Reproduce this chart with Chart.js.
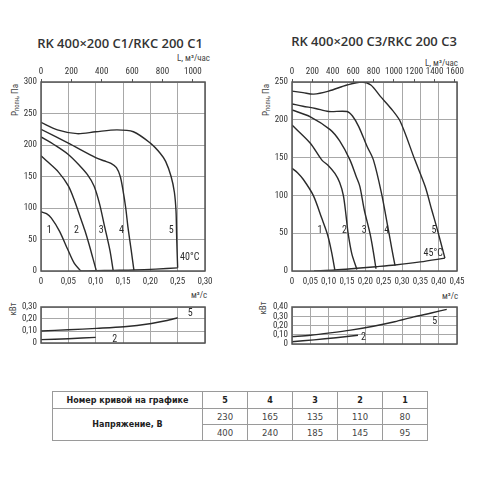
<!DOCTYPE html>
<html>
<head>
<meta charset="utf-8">
<script src="https://cdn.jsdelivr.net/npm/chart.js@4.4.0/dist/chart.umd.min.js"></script>
<style>
    body { margin: 0; width: 480px; height: 480px; background: #fff; position: relative; overflow: hidden;
           font-family: 'Roboto Condensed', 'Liberation Sans', sans-serif; color: #333; }
    canvas { position: absolute; }
    .t { position: absolute; white-space: nowrap; line-height: 1; }
    .title { font-family: 'Open Sans', sans-serif; font-weight: 600; font-size: 13px; color: #333; transform: translate(-50%, -50%); }
    .ax { font-size: 9px; color: #444; }
    .rot { transform: translate(-50%, -50%) rotate(-90deg); }
    sub { font-size: 6.5px; vertical-align: -1px; }
    table { position: absolute; left: 52px; top: 391px; border-collapse: collapse; font-family: 'DejaVu Sans', sans-serif; }
    td { border: 1px solid #9a9a9a; text-align: center; padding: 0; font-size: 8.5px; color: #444; }
    td.h { font-weight: bold; font-size: 8px; color: #222; }
</style>
</head>
<body>

<div class="t title" style="left:120px; top:43px">RK 400×200 C1/RKC 200 C1</div>
<div class="t title" style="left:374px; top:41px">RK 400×200 C3/RKC 200 C3</div>

<div class="t ax" style="left:177px; top:54px">L, м³/час</div>
<div class="t ax" style="left:425px; top:59px">L, м³/час</div>

<div class="t ax rot" style="left:16px; top:100px">P<sub>полн</sub>, Па</div>
<div class="t ax rot" style="left:267px; top:100px">P<sub>полн</sub>, Па</div>

<div class="t ax rot" style="left:13px; top:309px">кВт</div>
<div class="t ax rot" style="left:263px; top:308px">кВт</div>

<div class="t ax" style="left:191px; top:291px">м³/с</div>
<div class="t ax" style="left:442px; top:292px">м³/с</div>

<canvas id="c1main" width="240" height="250" style="left:0; top:50px"></canvas>
<canvas id="c1power" width="240" height="55" style="left:0; top:300px"></canvas>
<canvas id="c3main" width="230" height="250" style="left:250px; top:50px"></canvas>
<canvas id="c3power" width="230" height="55" style="left:250px; top:300px"></canvas>

<table>
    <tr style="height:17px">
        <td class="h" style="width:149px">Номер кривой на графике</td>
        <td class="h" style="width:44px">5</td>
        <td class="h" style="width:44px">4</td>
        <td class="h" style="width:44px">3</td>
        <td class="h" style="width:44px">2</td>
        <td class="h" style="width:44px">1</td>
    </tr>
    <tr style="height:16px">
        <td class="h" rowspan="2">Напряжение, В</td>
        <td>230</td><td>165</td><td>135</td><td>110</td><td>80</td>
    </tr>
    <tr style="height:16px">
        <td>400</td><td>240</td><td>185</td><td>145</td><td>95</td>
    </tr>
</table>

<script>
const FONT = "'Roboto Condensed', 'Liberation Sans', sans-serif";
const INK = '#2b2b2b';
const GRID = '#a8a8a8';
const FRAME = '#555';

// ---- RK 400x200 C1 : flow m3/s -> pressure Pa ----
const c1FlowTicks = [0, 0.05, 0.10, 0.15, 0.20, 0.25, 0.30];
const c1HourTicks = [0, 200, 400, 600, 800, 1000];
const c1PressTicks = [0, 50, 100, 150, 200, 250, 300];
const c1PowerTicks = [0, 0.10, 0.20, 0.30];

const c1Curve1 = [[0, 94], [0.01, 91], [0.019, 84], [0.034, 63], [0.049, 34], [0.061, 12], [0.073, 0]];
const c1Curve2 = [[0, 183], [0.01, 175], [0.032, 157], [0.05, 135], [0.062, 110], [0.072, 85], [0.08, 65], [0.088, 42], [0.095, 20], [0.101, 1]];
const c1Curve3 = [[0, 213], [0.025, 200], [0.05, 185], [0.07, 168], [0.085, 153], [0.097, 135], [0.107, 107], [0.1165, 70], [0.126, 33], [0.132, 1]];
const c1Curve4 = [[0, 225], [0.05, 203], [0.1, 180], [0.115, 175], [0.128, 171], [0.138, 164], [0.145, 150], [0.15, 128], [0.155, 100], [0.159, 70], [0.165, 33], [0.17, 1]];
const c1Curve5 = [[0, 236], [0.03, 224], [0.066, 218], [0.1, 221], [0.139, 224], [0.169, 221], [0.2, 203], [0.218, 187], [0.228, 174], [0.238, 150], [0.244, 125], [0.247, 95], [0.248, 60], [0.249, 30], [0.25, 5]];
const c1Base = [[0.073, 0], [0.1, 0.5], [0.132, 1], [0.17, 1.6], [0.21, 3], [0.25, 5]];
const c1Power5 = [[0, 0.10], [0.05, 0.11], [0.102, 0.122], [0.152, 0.136], [0.202, 0.163], [0.228, 0.185], [0.25, 0.21]];
const c1Power2 = [[0, 0.028], [0.05, 0.036], [0.1, 0.047]];
const c1Marks = [['1', 0.015, 65], ['2', 0.065, 65], ['3', 0.110, 65], ['4', 0.147, 65], ['5', 0.238, 65], ['40°C', 0.272, 22]];
const c1PowerMarks = [['5', 0.273, 0.25], ['2', 0.135, 0.03]];

// ---- RK 400x200 C3 ----
const c3FlowTicks = [0, 0.05, 0.10, 0.15, 0.20, 0.25, 0.30, 0.35, 0.40, 0.45];
const c3HourTicks = [0, 200, 400, 600, 800, 1000, 1200, 1400, 1600];
const c3PressTicks = [0, 50, 100, 150, 200, 250];
const c3PowerTicks = [0, 0.10, 0.20, 0.30, 0.40];

const c3Curve1 = [[0, 136], [0.015, 130], [0.031, 121], [0.058, 100], [0.081, 70], [0.097, 48], [0.108, 25], [0.117, 1]];
const c3Curve2 = [[0, 193], [0.05, 169], [0.081, 147], [0.1, 139], [0.117, 129], [0.13, 117], [0.14, 100], [0.147, 75], [0.153, 50], [0.163, 23], [0.177, 2]];
const c3Curve3 = [[0, 213], [0.05, 204], [0.104, 187], [0.13, 172], [0.158, 147], [0.175, 125], [0.185, 112], [0.197, 81], [0.213, 49], [0.222, 25], [0.229, 3]];
const c3Curve4 = [[0, 221], [0.03, 218], [0.064, 215], [0.1, 211], [0.15, 211], [0.165, 205], [0.182, 191], [0.2045, 165], [0.222, 147], [0.244, 103], [0.263, 54], [0.272, 30], [0.281, 7]];
const c3Curve5 = [[0, 238], [0.03, 236], [0.059, 234], [0.1, 238], [0.15, 246], [0.19, 250], [0.215, 246], [0.241, 231], [0.27, 215], [0.295, 198], [0.335, 147], [0.363, 112], [0.381, 81], [0.394, 59], [0.417, 17]];
const c3Base = [[0.06, 0], [0.117, 1.3], [0.177, 3.6], [0.229, 5.7], [0.281, 8], [0.35, 12], [0.417, 17]];
const c3Power5 = [[0, 0.08], [0.05, 0.095], [0.104, 0.12], [0.16, 0.15], [0.222, 0.192], [0.28, 0.24], [0.332, 0.293], [0.38, 0.335], [0.422, 0.375]];
const c3Power2 = [[0, 0.025], [0.06, 0.045], [0.12, 0.068], [0.18, 0.095]];
const c3Marks = [['1', 0.076, 54], ['2', 0.143, 54], ['3', 0.197, 54], ['4', 0.258, 54], ['5', 0.387, 54], ['45°C', 0.385, 23]];
const c3PowerMarks = [['5', 0.389, 0.24], ['2', 0.195, 0.07]];

const comma = v => v === 0 ? '0' : v.toFixed(2).replace('.', ',');
const plain = v => String(v);
const tickFont = { family: FONT, size: 9 };

// frame round the plot + curve numbers placed through the scales
const framePlugin = {
    id: 'frame',
    afterDraw(chart, args, opts) {
        const { ctx, chartArea: a, scales } = chart;
        ctx.save();
        ctx.strokeStyle = FRAME;
        ctx.lineWidth = 1.5;
        ctx.strokeRect(a.left, a.top, a.right - a.left, a.bottom - a.top);
        ctx.fillStyle = INK;
        ctx.font = `10px ${FONT}`;
        ctx.textAlign = 'center';
        ctx.textBaseline = 'middle';
        (opts.marks || []).forEach(([txt, x, y]) => {
            ctx.fillText(txt, scales.x.getPixelForValue(x), scales.y.getPixelForValue(y));
        });
        ctx.restore();
    }
};

const toPts = arr => arr.map(([x, y]) => ({ x, y }));
const curve = arr => ({
    data: toPts(arr), showLine: true, borderColor: INK, borderWidth: 1.4,
    pointRadius: 0, tension: 0.3, fill: false
});
const fixTicks = list => s => { s.ticks = list.map(v => ({ value: v })); };

function mainChart(id, o) {
    const cv = document.getElementById(id);
    const W = cv.width, H = cv.height;
    new Chart(cv, {
        type: 'scatter',
        data: { datasets: o.curves.map(curve) },
        options: {
            responsive: false, animation: false, events: [],
            layout: { padding: { left: 0, top: 0, right: W - o.box.right, bottom: 0 } },
            plugins: { legend: { display: false }, tooltip: { enabled: false }, frame: { marks: o.marks } },
            scales: {
                x: {
                    type: 'linear', position: 'bottom', min: 0, max: o.xMax,
                    afterBuildTicks: fixTicks(o.xTicks),
                    afterFit: s => { s.height = H - o.box.bottom; s.paddingLeft = 0; s.paddingRight = 0; },
                    ticks: { font: tickFont, color: '#333', padding: 5, autoSkip: false, maxRotation: 0, callback: comma },
                    grid: { color: GRID, drawTicks: false },
                    border: { display: false }
                },
                xTop: {
                    type: 'linear', position: 'top', min: 0, max: o.xMax * 3600,
                    afterBuildTicks: fixTicks(o.topTicks),
                    afterFit: s => { s.height = o.box.top; s.paddingLeft = 0; s.paddingRight = 0; },
                    ticks: { font: tickFont, color: '#333', padding: 2, autoSkip: false, maxRotation: 0, callback: plain },
                    grid: { drawOnChartArea: false, drawTicks: true, tickLength: 3, color: FRAME },
                    border: { display: false }
                },
                y: {
                    type: 'linear', position: 'left', min: 0, max: o.yMax,
                    afterBuildTicks: fixTicks(o.yTicks),
                    afterFit: s => { s.width = o.box.left; s.paddingTop = 0; s.paddingBottom = 0; },
                    ticks: { font: tickFont, color: '#333', padding: 4, autoSkip: false, callback: plain },
                    grid: { color: GRID, drawTicks: false },
                    border: { display: false }
                }
            }
        },
        plugins: [framePlugin]
    });
}

function powerChart(id, o) {
    const cv = document.getElementById(id);
    const W = cv.width, H = cv.height;
    new Chart(cv, {
        type: 'scatter',
        data: { datasets: o.curves.map(curve) },
        options: {
            responsive: false, animation: false, events: [],
            layout: { padding: { left: 0, top: o.box.top, right: W - o.box.right, bottom: H - o.box.bottom } },
            plugins: { legend: { display: false }, tooltip: { enabled: false }, frame: { marks: o.marks } },
            scales: {
                x: {
                    type: 'linear', position: 'bottom', min: 0, max: o.xMax,
                    afterBuildTicks: fixTicks(o.xTicks),
                    afterFit: s => { s.height = 0; s.paddingLeft = 0; s.paddingRight = 0; },
                    ticks: { display: false },
                    grid: { color: GRID, drawTicks: false },
                    border: { display: false }
                },
                y: {
                    type: 'linear', position: 'left', min: 0, max: o.yMax,
                    afterBuildTicks: fixTicks(o.yTicks),
                    afterFit: s => { s.width = o.box.left; s.paddingTop = 0; s.paddingBottom = 0; },
                    ticks: { font: tickFont, color: '#333', padding: 4, autoSkip: false, callback: comma },
                    grid: { color: GRID, drawTicks: false },
                    border: { display: false }
                }
            }
        },
        plugins: [framePlugin]
    });
}

mainChart('c1main', {
    curves: [c1Curve1, c1Curve2, c1Curve3, c1Curve4, c1Curve5, c1Base],
    marks: c1Marks, xMax: 0.30, yMax: 300,
    xTicks: c1FlowTicks, topTicks: c1HourTicks, yTicks: c1PressTicks,
    box: { left: 41, top: 32, right: 205, bottom: 221 }
});
powerChart('c1power', {
    curves: [c1Power5, c1Power2], marks: c1PowerMarks, xMax: 0.30, yMax: 0.30,
    xTicks: c1FlowTicks, yTicks: c1PowerTicks,
    box: { left: 41, top: 7, right: 205, bottom: 43 }
});
mainChart('c3main', {
    curves: [c3Curve1, c3Curve2, c3Curve3, c3Curve4, c3Curve5, c3Base],
    marks: c3Marks, xMax: 0.45, yMax: 250,
    xTicks: c3FlowTicks, topTicks: c3HourTicks, yTicks: c3PressTicks,
    box: { left: 42, top: 32, right: 207, bottom: 221 }
});
powerChart('c3power', {
    curves: [c3Power5, c3Power2], marks: c3PowerMarks, xMax: 0.45, yMax: 0.40,
    xTicks: c3FlowTicks, yTicks: c3PowerTicks,
    box: { left: 42, top: 7, right: 207, bottom: 44 }
});
</script>
</body>
</html>
